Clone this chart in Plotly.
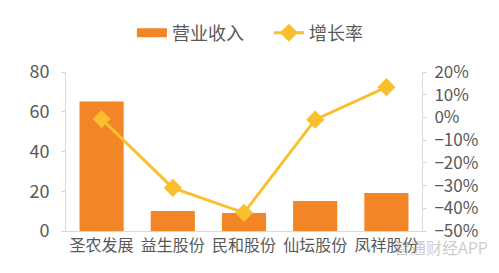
import plotly.graph_objects as go

categories = ["圣农发展", "益生股份", "民和股份", "仙坛股份", "凤祥股份"]
revenue = [65.2, 10.1, 9.0, 15.1, 19.1]
growth = [-0.7, -31.0, -42.0, -1.0, 13.3]

bar_color = "#F28526"
line_color = "#F9BF2F"
grey = "#595959"
font_family = "Noto Sans CJK SC, Microsoft YaHei, sans-serif"

fig = go.Figure()
fig.add_trace(go.Bar(
    x=categories, y=revenue, name="营业收入",
    marker=dict(color=bar_color, line=dict(width=0)),
    yaxis="y", showlegend=False,
))
# legend-only entry to mimic the wide rectangular swatch
fig.add_trace(go.Scatter(
    x=[None], y=[None], name="营业收入", mode="lines",
    line=dict(color=bar_color, width=9), yaxis="y",
))
fig.add_trace(go.Scatter(
    x=categories, y=growth, name="增长率", mode="lines+markers",
    line=dict(color=line_color, width=3),
    marker=dict(symbol="diamond", size=14, color=line_color),
    yaxis="y2",
))

fig.update_layout(
    width=499, height=273,
    margin=dict(l=66, r=77, t=72, b=42),
    paper_bgcolor="white", plot_bgcolor="white",
    font=dict(family=font_family, color=grey, size=16),
    bargap=0.38,
    showlegend=True,
    legend=dict(orientation="h", x=0.57, xanchor="center", y=1.245, yanchor="middle",
                font=dict(size=18, color=grey), entrywidth=92, entrywidthmode="pixels",
                traceorder="normal"),
    xaxis=dict(showgrid=False, showline=True, linecolor="#D9D9D9", linewidth=1,
               ticks="", tickfont=dict(size=16, color=grey), fixedrange=True),
    yaxis=dict(range=[0, 80], dtick=20, showgrid=False, showline=True,
               linecolor="#D9D9D9", linewidth=1, ticks="outside", ticklen=4,
               tickcolor="#D9D9D9", tickfont=dict(size=18, color=grey), zeroline=False,
               ticklabelstandoff=8),
    yaxis2=dict(range=[-50, 20], dtick=10, overlaying="y", side="right",
                showgrid=False, showline=True, linecolor="#D9D9D9", linewidth=1,
                ticks="outside", ticklen=4, tickcolor="#D9D9D9",
                ticksuffix="%", tickfont=dict(size=17, color=grey), zeroline=False,
                ticklabelstandoff=4),
    annotations=[dict(text="智通财经APP", xref="paper", yref="paper", x=1.19, y=-0.1,
                      xanchor="right", yanchor="middle", showarrow=False,
                      font=dict(size=16, color="rgba(170,170,170,0.6)"))],
)

fig.write_html("out.html")
